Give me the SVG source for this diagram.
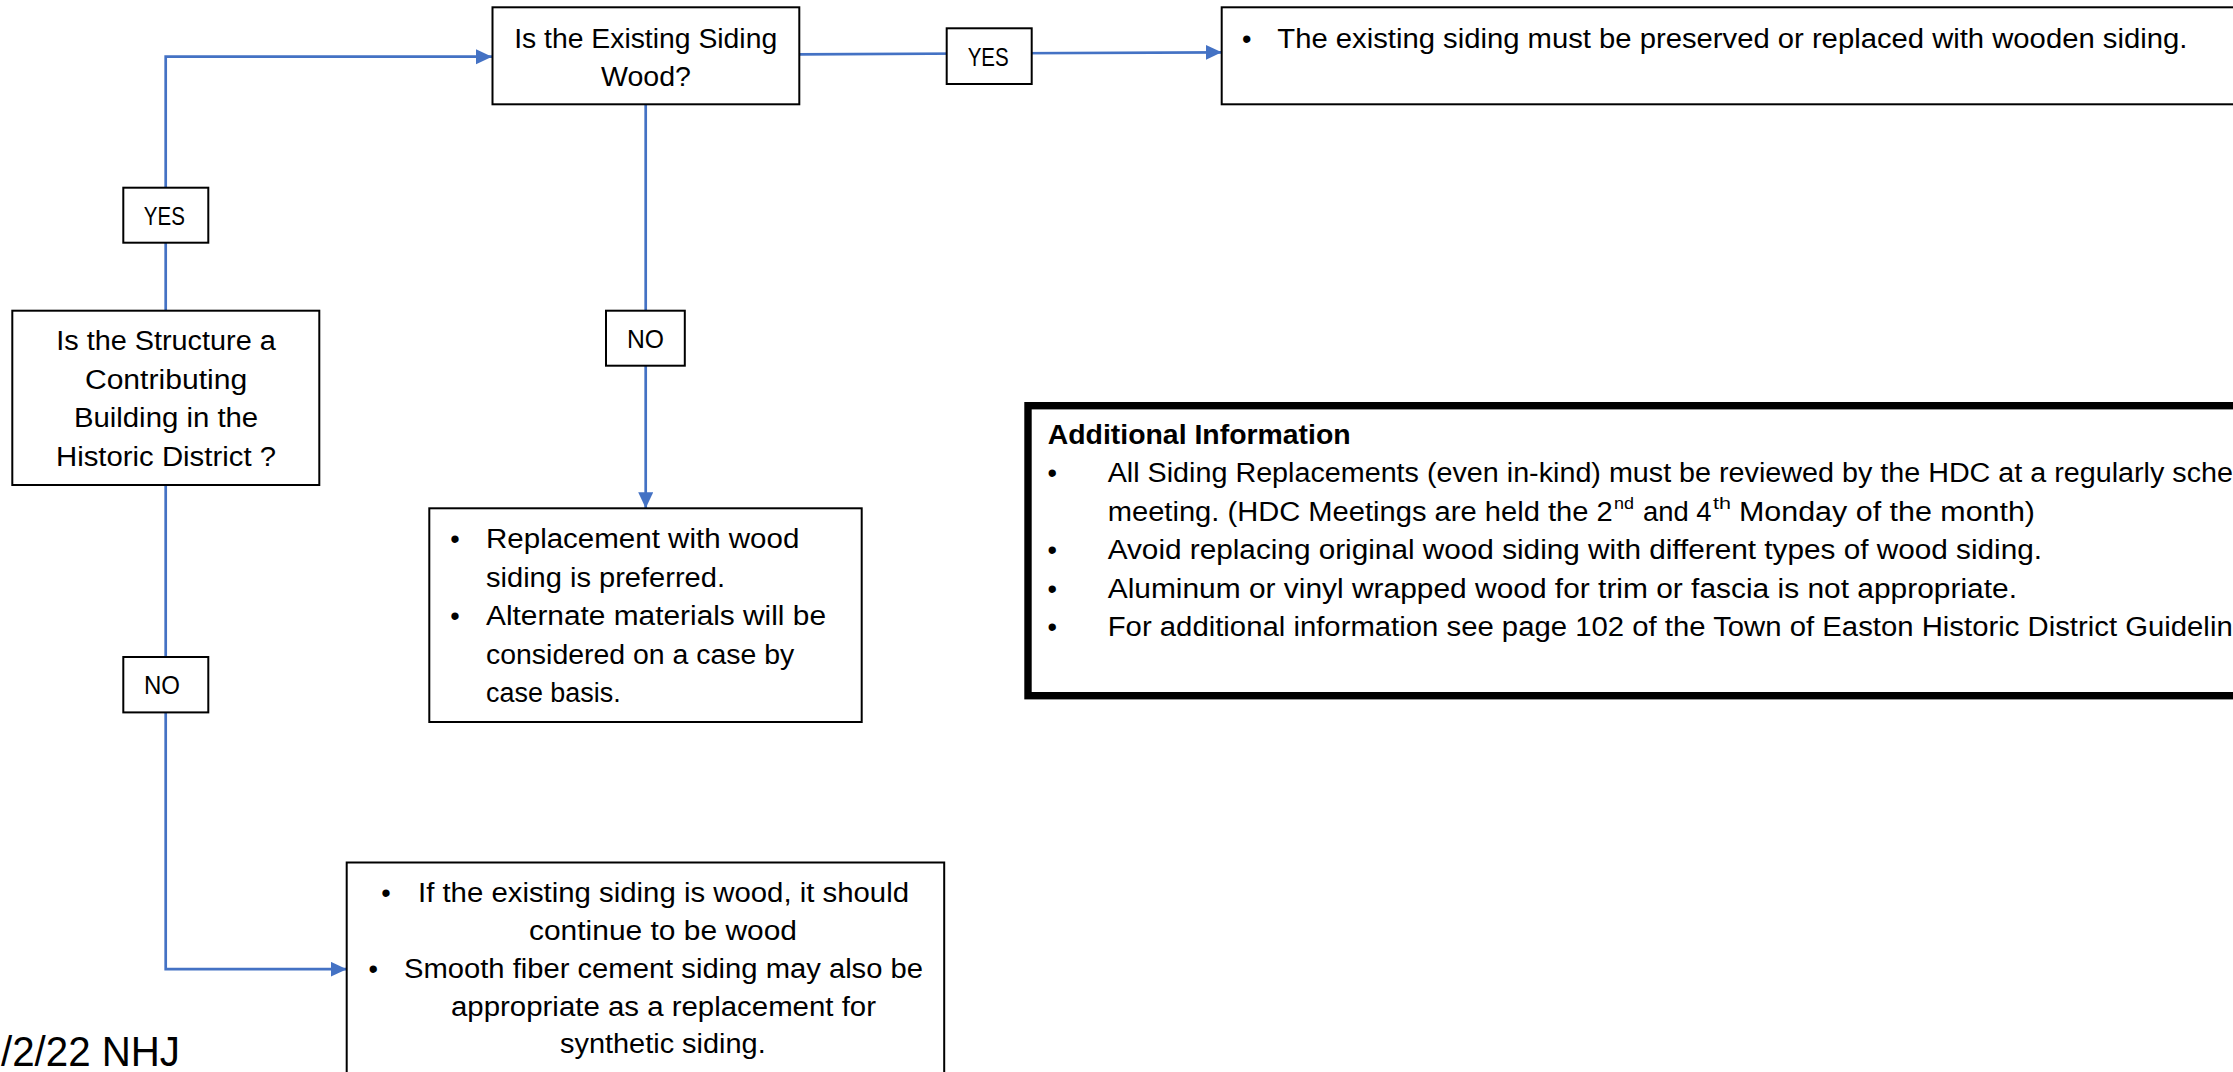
<svg xmlns="http://www.w3.org/2000/svg" width="2233" height="1072" viewBox="0 0 2233 1072">
<style>
.box{fill:#fff;stroke:#000;stroke-width:2}
.thick{fill:#fff;stroke:#000;stroke-width:7.4}
.t{font-family:"Liberation Sans",Arial,sans-serif;font-size:27px;fill:#000}
.lbl{font-family:"Liberation Sans",Arial,sans-serif;font-size:25.5px;fill:#000}
.b{font-weight:bold}
.sup{font-family:"Liberation Sans",Arial,sans-serif;font-size:17px;fill:#000}
.big{font-family:"Liberation Sans",Arial,sans-serif;font-size:42px;fill:#000}
.con{fill:none;stroke:#4472C4;stroke-width:2.7}
</style>
<defs>
<marker id="arr" markerUnits="userSpaceOnUse" markerWidth="17" markerHeight="16" refX="16" refY="7.5" orient="auto">
<path d="M0,0 L16,7.5 L0,15 z" fill="#4472C4"/>
</marker>
</defs>
<rect width="2233" height="1072" fill="#fff"/>

<g id="connectors">
<path class="con" d="M165.7,310.7 V56.7 H492" marker-end="url(#arr)"/>
<path class="con" d="M799.3,54.3 L1221.7,52.3" marker-end="url(#arr)"/>
<path class="con" d="M645.7,104.3 V508.3" marker-end="url(#arr)"/>
<path class="con" d="M165.7,485 V969.2 H346.7" marker-end="url(#arr)"/>
</g>

<g id="q-wood">
<rect class="box" x="492.5" y="7.3" width="306.8" height="97"/>
<text class="t" x="514.2" y="47.7" textLength="263" lengthAdjust="spacingAndGlyphs">Is the Existing Siding</text>
<text class="t" x="601" y="85.7" textLength="90" lengthAdjust="spacingAndGlyphs">Wood?</text>
</g>

<g id="lbl-yes-top">
<rect class="box" x="946.7" y="28.3" width="85" height="55.7"/>
<text class="lbl" x="967.7" y="66" textLength="41" lengthAdjust="spacingAndGlyphs">YES</text>
</g>

<g id="preserve">
<rect class="box" x="1221.7" y="7.3" width="1030" height="97"/>
<text class="t" x="1246.7" y="47.7" text-anchor="middle">•</text>
<text class="t" x="1277.3" y="47.7" textLength="910" lengthAdjust="spacingAndGlyphs">The existing siding must be preserved or replaced with wooden siding.</text>
</g>

<g id="lbl-yes-left">
<rect class="box" x="123.3" y="187.7" width="85" height="55"/>
<text class="lbl" x="143.8" y="225" textLength="41" lengthAdjust="spacingAndGlyphs">YES</text>
</g>

<g id="q-structure">
<rect class="box" x="12.3" y="310.7" width="307" height="174.3"/>
<text class="t" x="56.2" y="350" textLength="219.6" lengthAdjust="spacingAndGlyphs">Is the Structure a</text>
<text class="t" x="84.9" y="388.5" textLength="162.3" lengthAdjust="spacingAndGlyphs">Contributing</text>
<text class="t" x="73.9" y="427" textLength="184.3" lengthAdjust="spacingAndGlyphs">Building in the</text>
<text class="t" x="56" y="465.5" textLength="220" lengthAdjust="spacingAndGlyphs">Historic District ?</text>
</g>

<g id="lbl-no-mid">
<rect class="box" x="606" y="310.7" width="78.8" height="55"/>
<text class="lbl" x="627" y="347.5" textLength="37" lengthAdjust="spacingAndGlyphs">NO</text>
</g>

<g id="replacement">
<rect class="box" x="429.3" y="508.3" width="432.4" height="213.7"/>
<text class="t" x="455" y="548.3" text-anchor="middle">•</text>
<text class="t" x="486" y="548.3" textLength="313.3" lengthAdjust="spacingAndGlyphs">Replacement with wood</text>
<text class="t" x="486" y="586.8" textLength="239" lengthAdjust="spacingAndGlyphs">siding is preferred.</text>
<text class="t" x="455" y="625.3" text-anchor="middle">•</text>
<text class="t" x="486" y="625.3" textLength="340" lengthAdjust="spacingAndGlyphs">Alternate materials will be</text>
<text class="t" x="486" y="663.8" textLength="308.3" lengthAdjust="spacingAndGlyphs">considered on a case by</text>
<text class="t" x="486" y="702.3" textLength="134.7" lengthAdjust="spacingAndGlyphs">case basis.</text>
</g>

<g id="additional">
<rect class="thick" x="1028" y="405.7" width="1230" height="290"/>
<text class="t b" x="1047.7" y="444" textLength="303" lengthAdjust="spacingAndGlyphs">Additional Information</text>
<text class="t" x="1052.3" y="482" text-anchor="middle">•</text>
<text class="t" x="1107.7" y="482" textLength="1125.3" lengthAdjust="spacingAndGlyphs">All Siding Replacements (even in-kind) must be reviewed by the HDC at a regularly sche</text>
<text class="t" x="1107.7" y="520.5" textLength="505" lengthAdjust="spacingAndGlyphs">meeting. (HDC Meetings are held the 2</text>
<text class="sup" x="1614" y="509" textLength="20" lengthAdjust="spacingAndGlyphs">nd</text>
<text class="t" x="1643" y="520.5" textLength="68.6" lengthAdjust="spacingAndGlyphs">and 4</text>
<text class="sup" x="1713" y="509" textLength="18" lengthAdjust="spacingAndGlyphs">th</text>
<text class="t" x="1739" y="520.5" textLength="296" lengthAdjust="spacingAndGlyphs">Monday of the month)</text>
<text class="t" x="1052.3" y="559" text-anchor="middle">•</text>
<text class="t" x="1107.7" y="559" textLength="934.3" lengthAdjust="spacingAndGlyphs">Avoid replacing original wood siding with different types of wood siding.</text>
<text class="t" x="1052.3" y="597.5" text-anchor="middle">•</text>
<text class="t" x="1107.7" y="597.5" textLength="909.3" lengthAdjust="spacingAndGlyphs">Aluminum or vinyl wrapped wood for trim or fascia is not appropriate.</text>
<text class="t" x="1052.3" y="636" text-anchor="middle">•</text>
<text class="t" x="1107.7" y="636" textLength="1125" lengthAdjust="spacingAndGlyphs">For additional information see page 102 of the Town of Easton Historic District Guidelin</text>
</g>

<g id="lbl-no-left">
<rect class="box" x="123.3" y="657" width="85" height="55.4"/>
<text class="lbl" x="144" y="694.2" textLength="36" lengthAdjust="spacingAndGlyphs">NO</text>
</g>

<g id="fiber-cement">
<rect class="box" x="346.7" y="862.5" width="597.5" height="230"/>
<text class="t" x="386" y="901.7" text-anchor="middle">•</text>
<text class="t" x="418" y="901.7" textLength="491" lengthAdjust="spacingAndGlyphs">If the existing siding is wood, it should</text>
<text class="t" x="529" y="940" textLength="268" lengthAdjust="spacingAndGlyphs">continue to be wood</text>
<text class="t" x="373.3" y="977.7" text-anchor="middle">•</text>
<text class="t" x="404" y="977.7" textLength="519" lengthAdjust="spacingAndGlyphs">Smooth fiber cement siding may also be</text>
<text class="t" x="451" y="1015.7" textLength="425" lengthAdjust="spacingAndGlyphs">appropriate as a replacement for</text>
<text class="t" x="560" y="1053.3" textLength="205.7" lengthAdjust="spacingAndGlyphs">synthetic siding.</text>
</g>

<g id="date-note">
<text class="big" x="1" y="1066" textLength="179" lengthAdjust="spacingAndGlyphs">/2/22 NHJ</text>
</g>
</svg>
